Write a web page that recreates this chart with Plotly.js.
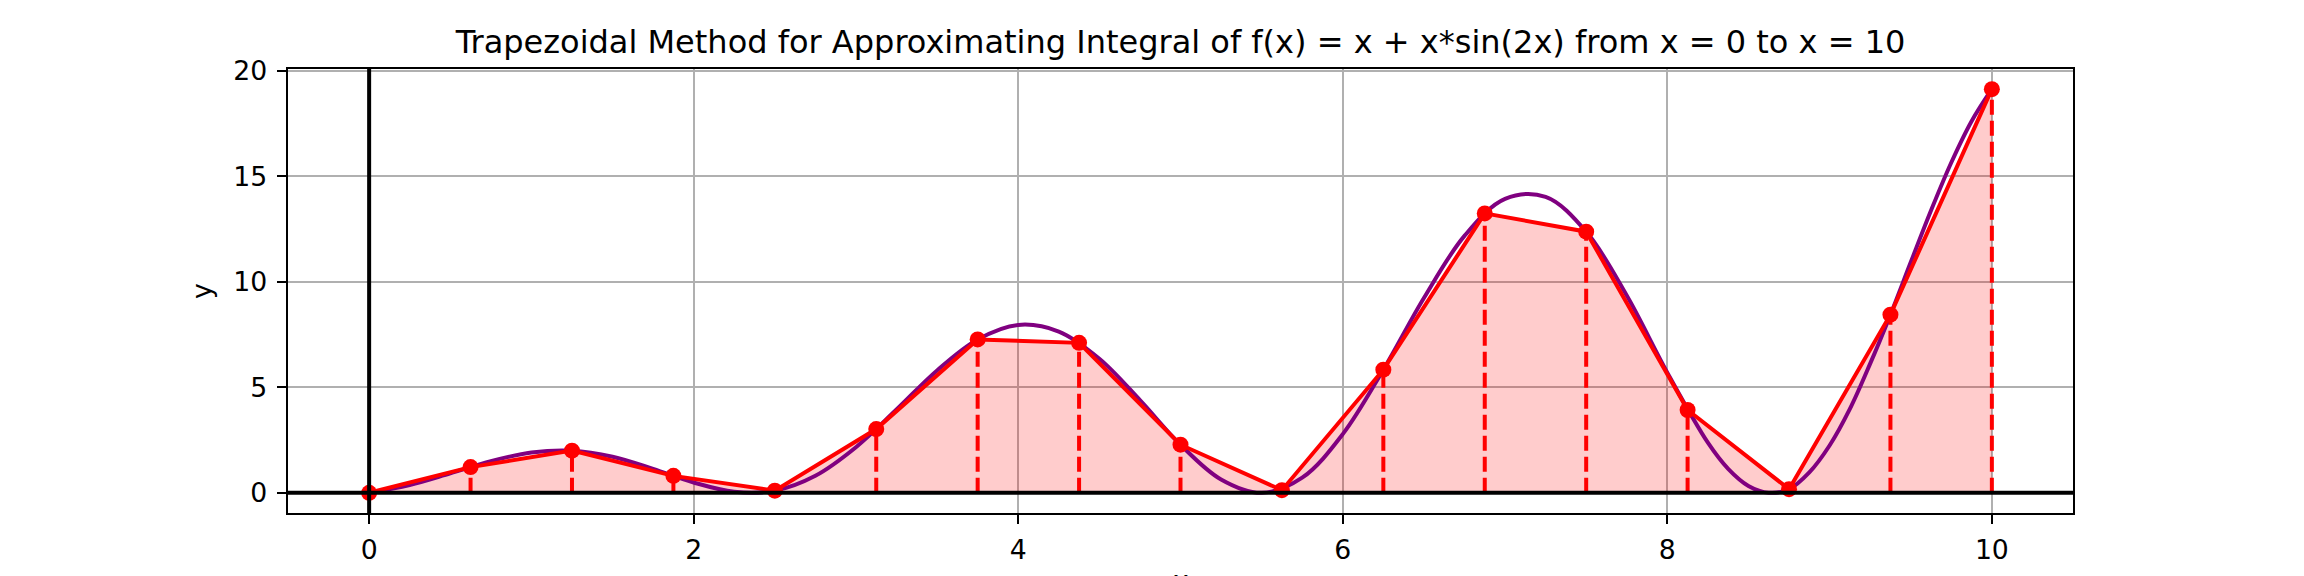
<!DOCTYPE html>
<html>
<head>
<meta charset="utf-8">
<script src="https://cdn.plot.ly/plotly-3.0.1.min.js"></script>
<style>html,body{margin:0;padding:0;background:#fff;}#chart{width:2304px;height:576px;}</style>
</head>
<body>
<div id="chart"></div>
<script>
// Smooth curve f(x) = x + x*sin(2x)
const curveX = [0,0.25,0.5,0.75,1,1.25,1.5,1.75,2,2.25,2.5,2.75,3,3.25,3.5,3.75,4,4.25,4.5,4.75,5,5.25,5.5,5.75,6,6.25,6.5,6.75,7,7.25,7.5,7.75,8,8.25,8.375,8.5,8.625,8.75,8.875,9,9.125,9.25,9.375,9.5,9.625,9.75,9.875,10];
const curveY = [0,0.370,0.921,1.498,1.909,1.998,1.712,1.136,0.486,0.051,0.103,0.810,2.162,3.949,5.800,7.268,7.958,7.644,6.354,4.393,2.280,0.632,0.000,0.717,2.780,5.836,9.231,12.176,13.934,14.028,12.377,9.350,5.697,2.378,1.138,0.328,0.003,0.173,0.966,2.241,3.975,6.121,8.443,10.924,13.377,15.654,17.613,19.129];

// Trapezoid nodes
const nodeX = [0,0.625,1.25,1.875,2.5,3.125,3.75,4.375,5,5.625,6.25,6.875,7.5,8.125,8.75,9.375,10];
const nodeY = [0,1.218,1.998,0.803,0.103,3.021,7.268,7.106,2.280,0.125,5.836,13.243,12.377,3.926,0.173,8.443,19.129];

const xTicks = [0,2,4,6,8,10];
const yTicks = [0,5,10,15,20];
const titleText = "Trapezoidal Method for Approximating Integral of f(x) = x + x*sin(2x) from x = 0 to x = 10";
const xLabel = "x";
const yLabel = "y";

// vertical dashed segments built from the nodes
const dashX = [], dashY = [];
nodeX.forEach((x, i) => { dashX.push(x, x, null); dashY.push(0, nodeY[i], null); });

const FONT = "DejaVu Sans, Liberation Sans, sans-serif";

const traces = [
  {x: nodeX, y: nodeY, type: 'scatter', mode: 'lines', fill: 'tozeroy',
   fillcolor: 'rgba(255,0,0,0.2)', line: {width: 0}, hoverinfo: 'skip'},
  {x: curveX, y: curveY, type: 'scatter', mode: 'lines',
   line: {color: '#800080', width: 4, shape: 'spline', smoothing: 1}},
  {x: dashX, y: dashY, type: 'scatter', mode: 'lines',
   line: {color: '#ff0000', width: 4, dash: '15px,6px'}},
  {x: nodeX, y: nodeY, type: 'scatter', mode: 'lines+markers',
   line: {color: '#ff0000', width: 4},
   marker: {color: '#ff0000', size: 16, line: {width: 0}}}
];

const layout = {
  width: 2304, height: 576,
  margin: {l: 288, r: 231, t: 69, b: 63},
  paper_bgcolor: '#fff', plot_bgcolor: '#fff',
  showlegend: false,
  font: {family: FONT, size: 26.7, color: '#000'},
  title: {text: titleText, font: {family: FONT, size: 32, color: '#000'},
          x: 0.5, xref: 'paper', xanchor: 'center',
          y: 1, yref: 'paper', yanchor: 'bottom', pad: {b: 16}},
  xaxis: {range: [-0.5, 10.5], tickvals: xTicks, ticktext: xTicks.map(String),
          showgrid: true, gridcolor: '#b0b0b0', gridwidth: 2.1,
          zeroline: false, showline: true, linecolor: '#000', linewidth: 2.1, mirror: true,
          ticks: 'outside', ticklen: 9.3, tickwidth: 2.1, tickcolor: '#000',
          ticklabelstandoff: 3},
  yaxis: {range: [-0.957, 20.086], tickvals: yTicks, ticktext: yTicks.map(String),
          showgrid: true, gridcolor: '#b0b0b0', gridwidth: 2.1,
          zeroline: false, showline: true, linecolor: '#000', linewidth: 2.1, mirror: true,
          ticks: 'outside', ticklen: 9.3, tickwidth: 2.1, tickcolor: '#000',
          ticklabelstandoff: 4,
          title: {text: yLabel, font: {family: FONT, size: 26.7}, standoff: 14}},
  annotations: [
    {text: xLabel, xref: 'paper', yref: 'paper', x: 0.5, y: 0,
     xanchor: 'center', yanchor: 'top', yshift: -50, showarrow: false,
     font: {family: FONT, size: 26.7, color: '#000'}}
  ],
  shapes: [
    {type: 'line', xref: 'paper', yref: 'y', x0: 0, x1: 1, y0: 0, y1: 0,
     line: {color: '#000', width: 4}, layer: 'above'},
    {type: 'line', xref: 'x', yref: 'paper', x0: 0, x1: 0, y0: 0, y1: 1,
     line: {color: '#000', width: 4}, layer: 'above'}
  ]
};

Plotly.newPlot('chart', traces, layout, {staticPlot: true, displayModeBar: false});
</script>
</body>
</html>
